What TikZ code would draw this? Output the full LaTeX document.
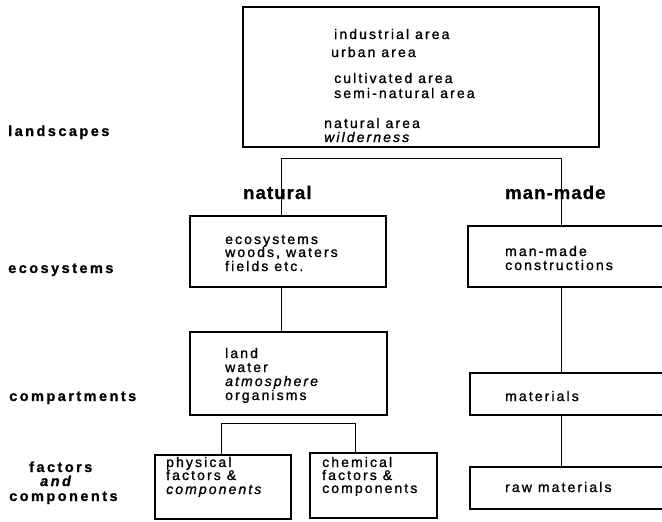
\documentclass[tikz,border=0pt]{standalone}
\usepackage{fontspec}
\setmainfont{Liberation Sans}[LetterSpace=15, FakeBold=1.2]
\newfontfamily\labelfont{Liberation Sans}[LetterSpace=17, FakeBold=1]
\newfontfamily\headfont{Liberation Sans}[LetterSpace=6, FakeBold=0.8]
\begin{document}
\begin{tikzpicture}[x=1pt,y=-1pt,
  box/.style 2 args={draw, line width=1.1pt, inner sep=0pt, minimum width=#1, minimum height=#2},
  txt/.style={anchor=base west, inner sep=0pt, font=\fontsize{14}{15}\selectfont},
  lab/.style={anchor=base west, inner sep=0pt, font=\labelfont\bfseries\fontsize{14.5}{16}\selectfont},
  head/.style={anchor=base west, inner sep=0pt, font=\headfont\bfseries\fontsize{18.5}{20}\selectfont},
  link/.style={line width=0.9pt}]
\clip (0,0) rectangle (662,522);

% boxes
\node[box={356pt}{140pt}] (land) at (421,77) {};
\node[box={196pt}{71pt}] (eco) at (288,251.5) {};
\node[box={197pt}{83pt}] (comp) at (288.5,373.5) {};
\node[box={136pt}{64pt}] (phys) at (223,487) {};
\node[box={127pt}{65pt}] (chem) at (373.5,485.5) {};
\node[box={212pt}{61pt}] (cons) at (574,256.5) {};
\node[box={210pt}{42pt}] (mat) at (575,394) {};
\node[box={210pt}{42pt}] (raw) at (575,488) {};

% connectors
\coordinate (nsplit) at (281,158);
\coordinate (msplit) at (561,158);
\coordinate (bl) at (221,423);
\coordinate (br) at (355,423);
\draw[link] (eco.north -| nsplit) -- (nsplit) -- (msplit) -- (cons.north -| msplit);
\draw[link] (eco.south -| nsplit) -- (comp.north -| nsplit);
\draw[link] (cons.south -| msplit) -- (mat.north -| msplit);
\draw[link] (mat.south -| msplit) -- (raw.north -| msplit);
\draw[link] (phys.north -| bl) -- (bl) -- (br) -- (chem.north -| br);

% landscape types
\node[txt] (t1) at (334,39) {industrial area};
\node[txt] (t2) at (331,57) {urban area};
\node[txt] (t3) at (334,83) {cultivated area};
\node[txt] (t4) at (334,98) {semi-natural area};
\node[txt] (t5) at (324,128) {natural area};
\node[txt] (t6) at (324,142) {\itshape wilderness};

% natural branch
\node[txt] (e1) at (225,244) {ecosystems};
\node[txt] (e2) at (225,257) {woods, waters};
\node[txt] (e3) at (225,271) {fields etc.};
\node[txt] (c1) at (225,358) {land};
\node[txt] (c2) at (225,372) {water};
\node[txt] (c3) at (225,386) {\itshape atmosphere};
\node[txt] (c4) at (225,400) {organisms};
\node[txt] (p1) at (166,467) {physical};
\node[txt] (p2) at (166,480) {factors \&};
\node[txt] (p3) at (166,494) {\itshape components};
\node[txt] (h1) at (322,467) {chemical};
\node[txt] (h2) at (322,480) {factors \&};
\node[txt] (h3) at (322,493) {components};

% man-made branch
\node[txt] (m1) at (505,256) {man-made};
\node[txt] (m2) at (505,270) {constructions};
\node[txt] (m3) at (505,401) {materials};
\node[txt] (m4) at (505,492) {raw materials};

% branch headings
\node[head] (natural) at (243,199) {natural};
\node[head] (manmade) at (505,199) {man-made};

% level labels
\node[lab] (l1) at (8,136) {landscapes};
\node[lab] (l2) at (8,273) {ecosystems};
\node[lab] (l3) at (9,401) {compartments};
\node[lab] (l4) at (29,472) {factors};
\node[lab] (l5) at (40,486) {\itshape and};
\node[lab] (l6) at (9,501) {components};
\end{tikzpicture}
\end{document}
